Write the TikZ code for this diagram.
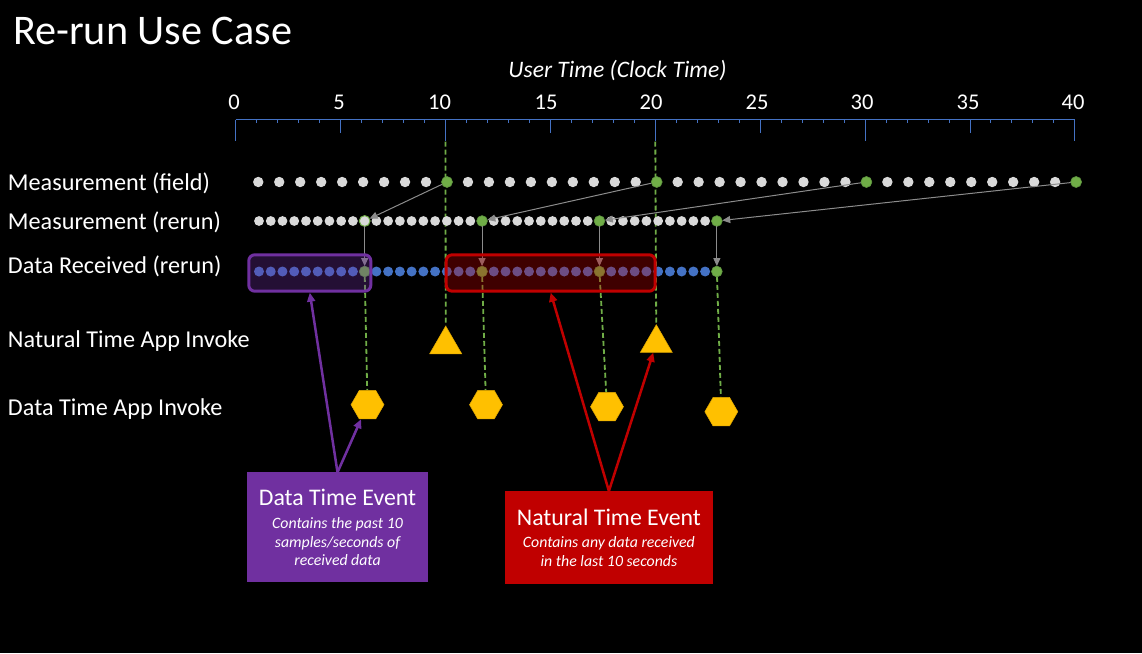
\documentclass[tikz,border=0pt]{standalone}
\usepackage{fontspec}
\setmainfont{Carlito}
\usetikzlibrary{arrows.meta,shapes.geometric}
\definecolor{axisblue}{HTML}{4472C4}
\definecolor{dotgray}{HTML}{D9D9D9}
\definecolor{mgreen}{HTML}{70AD47}
\definecolor{dgreen}{HTML}{5E9440}
\definecolor{dblue}{HTML}{4472C4}
\definecolor{gold}{HTML}{FFC000}
\definecolor{goldedge}{HTML}{E0A800}
\definecolor{mpurple}{HTML}{7030A0}
\definecolor{mred}{HTML}{C00000}
\definecolor{arrowgray}{HTML}{8C8C8C}
\pgfdeclarelayer{back}
\pgfdeclarelayer{lines}
\pgfsetlayers{back,lines,main}
\tikzset{
  dotbase/.style={circle, inner sep=0pt, outer sep=0pt},
  fdot/.style={dotbase, fill=dotgray, minimum size=10.4pt},
  fgdot/.style={dotbase, fill=mgreen, draw=dgreen, line width=0.6pt, minimum size=11pt},
  rdot/.style={dotbase, fill=dotgray, minimum size=9.8pt},
  rgdot/.style={dotbase, fill=mgreen, draw=dgreen, line width=0.6pt, minimum size=10.8pt},
  rhdot/.style={dotbase, fill=dotgray, draw=mgreen, line width=1pt, minimum size=10.8pt},
  ddot/.style={dotbase, fill=dblue, minimum size=10pt},
  txt/.style={text=white, inner sep=0pt, outer sep=0pt},
  rowlabel/.style={txt, anchor=base west, font=\fontsize{24.2}{28}\selectfont},
  axisnum/.style={txt, anchor=base, font=\fontsize{22.5}{27}\selectfont},
  axisline/.style={draw=axisblue, line width=1pt},
  gdash/.style={draw=mgreen, line width=1.8pt, dash pattern=on 5pt off 3pt},
  grayarrow/.style={draw=arrowgray, line width=1pt, -{Triangle[length=8pt,width=7pt]}},
  hexa/.style={regular polygon, regular polygon sides=6, fill=gold, draw=goldedge, line width=0.5pt, minimum size=33pt, inner sep=0pt},
  tria/.style={regular polygon, regular polygon sides=3, fill=gold, draw=goldedge, line width=0.5pt, minimum size=37pt, inner sep=0pt},
  winbox/.style={rounded corners=6pt, line width=3pt, fill opacity=0.33, inner sep=0pt},
  evbox/.style={inner sep=0pt, outer sep=0pt},
  evtitle/.style={txt, anchor=base, font=\fontsize{23.8}{28}\selectfont},
  evsub/.style={txt, anchor=base, font=\fontsize{15.8}{18.7}\selectfont\itshape},
  parrow/.style={draw=mpurple, line width=2.5pt, -{Triangle[length=9pt,width=8pt]}},
  rarrow/.style={draw=mred, line width=2.5pt, -{Triangle[length=9pt,width=8pt]}}
}
\begin{document}
\begin{tikzpicture}[x=1pt, y=-1pt]
\useasboundingbox (0,0) rectangle (1142,653);
\begin{pgfonlayer}{back}
  \fill[black] (0,0) rectangle (1142,653);
\end{pgfonlayer}

% title and labels
\node[txt, anchor=base west, font=\fontsize{42.2}{50}\selectfont] (title) at (13,44.3) {Re-run Use Case};
\node[txt, anchor=base, font=\fontsize{23.6}{28}\selectfont\itshape] (xlabel) at (617.5,77.7) {User Time (Clock Time)};
\node[rowlabel] (lfield) at (8,190) {Measurement (field)};
\node[rowlabel] (lrerun) at (8,229.3) {Measurement (rerun)};
\node[rowlabel] (ldata) at (8,273.3) {Data Received (rerun)};
\node[rowlabel] (lnat) at (8,347.3) {Natural Time App Invoke};
\node[rowlabel] (ldt) at (8,415) {Data Time App Invoke};

% axis
\foreach \v/\x in {0/234,5/339,10/439.5,15/546,20/651,25/757,30/862,35/968,40/1073}
  \node[axisnum] (n\v) at (\x,109) {\v};
\draw[axisline] (235.7,119.5) -- (1075,119.5);
\foreach \v in {0,...,40}{
  \pgfmathtruncatemacro\mf{mod(\v,5)}
  \pgfmathtruncatemacro\mt{mod(\v,10)}
  \ifnum\mt=0
    \draw[axisline] ({235.7+20.98*\v},119.5) -- ++(0,21);
  \else\ifnum\mf=0
    \draw[axisline] ({235.7+20.98*\v},119.5) -- ++(0,13.2);
  \else
    \draw[axisline] ({235.7+20.98*\v},119.5) -- ++(0,3.2);
  \fi\fi
}
\coordinate (t10) at (445.5,141.5);
\coordinate (t20) at (655.3,141.5);

% field measurements
\foreach \k in {1,...,40}{
  \pgfmathtruncatemacro\mm{mod(\k,10)}
  \ifnum\mm=0
    \node[fgdot] (f\k) at ({237.3+20.97*\k},182) {};
  \else
    \node[fdot] (f\k) at ({237.3+20.97*\k},182) {};
  \fi
}
% rerun measurements and received data
\foreach \i in {1,...,40}{
  \pgfmathtruncatemacro\mm{mod(\i,10)}
  \ifnum\i=10
    \node[rhdot] (r\i) at ({259+11.74*(\i-1)},221) {};
    \node[rgdot] (d\i) at ({259+11.74*(\i-1)},271.5) {};
  \else\ifnum\mm=0
    \node[rgdot] (r\i) at ({259+11.74*(\i-1)},221) {};
    \node[rgdot] (d\i) at ({259+11.74*(\i-1)},271.5) {};
  \else
    \node[rdot] (r\i) at ({259+11.74*(\i-1)},221) {};
    \node[ddot] (d\i) at ({259+11.74*(\i-1)},271.5) {};
  \fi\fi
}

% gray arrows
\foreach \k in {10,20,30,40}{
  \draw[grayarrow] (f\k) -- (r\k);
  \draw[grayarrow] (r\k) -- (d\k);
}

% invoke markers
\node[tria] (tri1) at (445.7,344.5) {};
\node[tria] (tri2) at (656.3,343.2) {};
\node[hexa] (h1) at (367.5,404.7) {};
\node[hexa] (h2) at (486,404.7) {};
\node[hexa] (h3) at (607,406.7) {};
\node[hexa] (h4) at (721.3,411.7) {};

% dashed guide lines (behind dots)
\begin{pgfonlayer}{lines}
  \draw[gdash] (t10) -- (tri1);
  \draw[gdash] (t20) -- (tri2);
  \draw[gdash] (d10) -- (h1);
  \draw[gdash] (d20) -- (h2);
  \draw[gdash] (d30) -- (h3);
  \draw[gdash] (d40) -- (h4);
\end{pgfonlayer}

% windows
\node[winbox, draw=mpurple, fill=mpurple, minimum width=122pt, minimum height=36.4pt] (pb) at (309.8,273) {};
\node[winbox, draw=mred, fill=mred, minimum width=209pt, minimum height=36.4pt] (rb) at (550.7,273) {};

% event boxes
\node[evbox, fill=mpurple, minimum width=180.4pt, minimum height=110pt] (dte) at (337.5,527.3) {};
\node[evtitle] (dtet) at (337.5,505.7) {Data Time Event};
\node[evsub] (dtes1) at (337.5,528.3) {Contains the past 10};
\node[evsub] (dtes2) at (337.5,547.3) {samples/seconds of};
\node[evsub] (dtes3) at (337.5,565.7) {received data};

\node[evbox, fill=mred, minimum width=207.7pt, minimum height=93.3pt] (nte) at (608.9,537.7) {};
\node[evtitle] (ntet) at (608.9,525) {Natural Time Event};
\node[evsub] (ntes1) at (608.9,547.3) {Contains any data received};
\node[evsub] (ntes2) at (608.9,566) {in the last 10 seconds};

% callout arrows
\draw[parrow] (dte.north) -- (pb.south);
\draw[parrow] (dte.north) -- (h1);
\draw[rarrow] (nte.north) -- (rb.south);
\draw[rarrow] (nte.north) -- (tri2);
\end{tikzpicture}
\end{document}
